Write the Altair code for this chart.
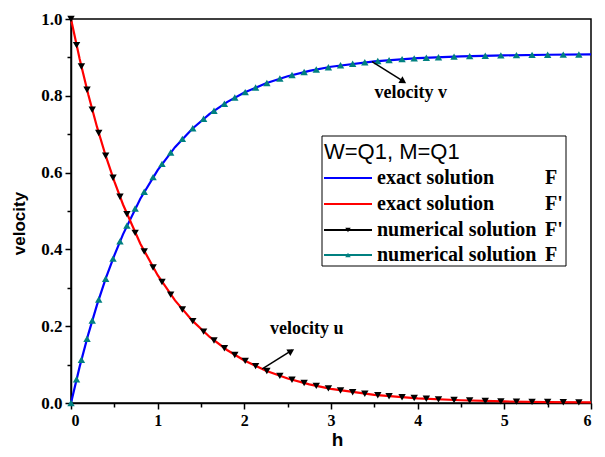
import altair as alt
import pandas as pd

# exact solutions
h_exact = [0, 0.1, 0.2, 0.3, 0.4, 0.5, 0.6, 0.8, 1.0, 1.2, 1.4, 1.6, 1.8, 2.0,
           2.25, 2.5, 2.75, 3.0, 3.5, 4.0, 4.5, 5.0, 5.5, 6.0]
F_exact = [0, 0.0947, 0.1795, 0.2555, 0.3236, 0.3846, 0.4392, 0.5320, 0.6065,
           0.6663, 0.7142, 0.7527, 0.7836, 0.8084, 0.8325, 0.8510, 0.8650,
           0.8756, 0.8897, 0.8979, 0.9026, 0.9054, 0.9069, 0.9078]
Fp_exact = [1.0, 0.8958, 0.8025, 0.7189, 0.6440, 0.5769, 0.5169, 0.4148, 0.3329,
            0.2671, 0.2144, 0.1720, 0.1381, 0.1108, 0.0842, 0.0639, 0.0486,
            0.0369, 0.0213, 0.0123, 0.0071, 0.0041, 0.0024, 0.0014]

# numerical solutions (markers)
h_num = [0, 0.064, 0.12, 0.185, 0.245, 0.32, 0.40, 0.485, 0.565, 0.645, 0.74,
         0.845, 0.947, 1.05, 1.15, 1.285, 1.405, 1.53, 1.65, 1.77, 1.89, 2.01,
         2.13, 2.26, 2.41, 2.55, 2.69, 2.83, 2.97, 3.11, 3.25, 3.39, 3.54, 3.67,
         3.82, 3.96, 4.10, 4.24, 4.42, 4.60, 4.78, 4.96, 5.14, 5.32, 5.50, 5.68, 5.86]
F_num = [0, 0.0618, 0.1125, 0.1674, 0.2147, 0.2697, 0.3236, 0.3759, 0.4208,
         0.4619, 0.5063, 0.5503, 0.5883, 0.6227, 0.6525, 0.6879, 0.7153, 0.7402,
         0.7611, 0.7794, 0.7954, 0.8095, 0.8218, 0.8335, 0.8449, 0.8541, 0.8619,
         0.8686, 0.8745, 0.8794, 0.8836, 0.8873, 0.8905, 0.8930, 0.8955, 0.8975,
         0.8991, 0.9006, 0.9021, 0.9033, 0.9044, 0.9052, 0.9059, 0.9065, 0.9069,
         0.9073, 0.9076]
Fp_num = [1.0, 0.9320, 0.8763, 0.8159, 0.7638, 0.7033, 0.6440, 0.5865, 0.5371,
          0.4919, 0.4431, 0.3947, 0.3529, 0.3150, 0.2822, 0.2433, 0.2132, 0.1858,
          0.1628, 0.1427, 0.1251, 0.1096, 0.0960, 0.0832, 0.0706, 0.0605, 0.0519,
          0.0445, 0.0381, 0.0327, 0.0280, 0.0240, 0.0204, 0.0177, 0.0150, 0.0128,
          0.0110, 0.0094, 0.0077, 0.0064, 0.0052, 0.0043, 0.0035, 0.0029, 0.0024,
          0.0019, 0.0016]

x_ticks = [0, 0.5, 1, 1.5, 2, 2.5, 3, 3.5, 4, 4.5, 5, 5.5, 6]
y_ticks = [0, 0.1, 0.2, 0.3, 0.4, 0.5, 0.6, 0.7, 0.8, 0.9, 1.0]

legend_title = "W=Q1, M=Q1"
legend_labels = ["exact solution", "exact solution", "numerical solution", "numerical solution"]
legend_suffix = ["F", "F'", "F'", "F"]

W, H = 520, 384

exact = pd.DataFrame({"h": h_exact, "F": F_exact, "Fp": Fp_exact})
num = pd.DataFrame({"h": h_num, "F": F_num, "Fp": Fp_num})
one = pd.DataFrame({"a": [0]})

xs = alt.Scale(domain=[0, 6], nice=False, zero=False)
ys = alt.Scale(domain=[0, 1], nice=False, zero=False)

xmaj = "datum.value % 1 === 0"
ymaj = "abs(datum.value * 5 - round(datum.value * 5)) < 0.001"

x_axis = alt.Axis(
    values=x_ticks, labelExpr=f"{xmaj} ? format(datum.value, 'd') : ''",
    labelOverlap=False, grid=False,
    labelFont="Liberation Serif", labelFontWeight="bold", labelFontSize=16, labelColor="black",
    labelPadding=3,
    tickSize={"condition": {"test": xmaj, "value": 6}, "value": 4},
    tickColor="black", tickWidth=1.5, domainColor="black", domainWidth=1.5,
    title="h", titleFont="Liberation Sans", titleFontWeight="bold", titleFontSize=19,
    titleColor="black", titleX=266, titleY=36, titleAlign="center", titleBaseline="middle",
)
y_axis = alt.Axis(
    values=y_ticks, labelExpr=f"{ymaj} ? format(datum.value, '.1f') : ''",
    labelOverlap=False, grid=False,
    labelFont="Liberation Serif", labelFontWeight="bold", labelFontSize=17, labelColor="black",
    labelPadding=3,
    tickSize={"condition": {"test": ymaj, "value": 6}, "value": 4},
    tickColor="black", tickWidth=1.5, domainColor="black", domainWidth=1.5,
    title="velocity", titleFont="Liberation Sans", titleFontWeight="bold", titleFontSize=17,
    titleColor="black", titleAngle=270, titleX=-52, titleY=204,
    titleAlign="center", titleBaseline="middle",
)

X = alt.X("h:Q", scale=xs, axis=x_axis)

blue_line = alt.Chart(exact).mark_line(color="#0000ff", strokeWidth=2.2).encode(
    x=X, y=alt.Y("F:Q", scale=ys, axis=y_axis))
red_line = alt.Chart(exact).mark_line(color="#ff0000", strokeWidth=2.2).encode(
    x=X, y=alt.Y("Fp:Q", scale=ys, axis=y_axis))
teal_pts = alt.Chart(num).mark_point(shape="triangle-up", filled=True, color="#008080",
                                     size=55, opacity=1).encode(
    x=X, y=alt.Y("F:Q", scale=ys, axis=y_axis))
black_pts = alt.Chart(num).mark_point(shape="triangle-down", filled=True, color="black",
                                      size=55, opacity=1).encode(
    x=X, y=alt.Y("Fp:Q", scale=ys, axis=y_axis))

# annotations
arrows = pd.DataFrame({"x": [2.207, 3.473], "y": [0.089, 0.889],
                       "x2": [2.552, 3.846], "y2": [0.1375, 0.836]})
arrow_lines = alt.Chart(arrows).mark_rule(color="black", strokeWidth=1.5).encode(
    x=alt.X("x:Q", scale=xs, axis=x_axis), y=alt.Y("y:Q", scale=ys, axis=y_axis),
    x2="x2:Q", y2="y2:Q")
head_u = alt.Chart(pd.DataFrame({"x": [2.530], "y": [0.134]})).mark_point(
    shape="triangle", filled=True, color="black", size=60, angle=59, opacity=1).encode(
    x=alt.X("x:Q", scale=xs, axis=x_axis), y=alt.Y("y:Q", scale=ys, axis=y_axis))
head_v = alt.Chart(pd.DataFrame({"x": [3.823], "y": [0.839]})).mark_point(
    shape="triangle", filled=True, color="black", size=60, angle=122, opacity=1).encode(
    x=alt.X("x:Q", scale=xs, axis=x_axis), y=alt.Y("y:Q", scale=ys, axis=y_axis))
ann = pd.DataFrame({"x": [2.72, 3.92], "y": [0.194, 0.808], "t": ["velocity u", "velocity v"]})
ann_text = alt.Chart(ann).mark_text(font="Liberation Serif", fontWeight="bold", fontSize=18,
                                    color="black", align="center", baseline="middle").encode(
    x=alt.X("x:Q", scale=xs, axis=x_axis), y=alt.Y("y:Q", scale=ys, axis=y_axis), text="t:N")

# legend (drawn by hand)
leg_box = alt.Chart(one).mark_rect(fill="white", stroke="black", strokeWidth=1).encode(
    x=alt.value(251), x2=alt.value(495), y=alt.value(117), y2=alt.value(247))
leg_title = alt.Chart(one).mark_text(font="Liberation Sans", fontSize=22, color="black",
                                     align="left", baseline="middle").encode(
    x=alt.value(253), y=alt.value(133), text=alt.value(legend_title))
row_y = [159, 185, 211, 236]
row_col = ["#0000ff", "#ff0000", "black", "#008080"]
leg_layers = []
for i in range(4):
    leg_layers.append(alt.Chart(one).mark_rule(color=row_col[i], strokeWidth=2).encode(
        x=alt.value(253), x2=alt.value(301), y=alt.value(row_y[i])))
    leg_layers.append(alt.Chart(one).mark_text(font="Liberation Serif", fontWeight="bold",
                                               fontSize=20, color="black", align="left",
                                               baseline="middle").encode(
        x=alt.value(306), y=alt.value(row_y[i]), text=alt.value(legend_labels[i])))
    leg_layers.append(alt.Chart(one).mark_text(font="Liberation Serif", fontWeight="bold",
                                               fontSize=20, color="black", align="left",
                                               baseline="middle").encode(
        x=alt.value(474), y=alt.value(row_y[i]), text=alt.value(legend_suffix[i])))
leg_layers.append(alt.Chart(one).mark_point(shape="triangle-down", filled=True, color="black",
                                            size=30, opacity=1).encode(
    x=alt.value(277), y=alt.value(row_y[2])))
leg_layers.append(alt.Chart(one).mark_point(shape="triangle-up", filled=True, color="#008080",
                                            size=30, opacity=1).encode(
    x=alt.value(277), y=alt.value(row_y[3])))

chart = alt.layer(
    blue_line, red_line, black_pts, teal_pts, arrow_lines, head_u, head_v, ann_text,
    leg_box, leg_title, *leg_layers
).properties(
    width=W, height=H,
    autosize=alt.AutoSizeParams(type="none"),
    padding={"left": 63, "top": 11, "right": 6, "bottom": 46},
).configure_view(stroke="black", strokeWidth=1.5)

chart.save("out.html", embed_options={"renderer": "svg", "actions": False})
